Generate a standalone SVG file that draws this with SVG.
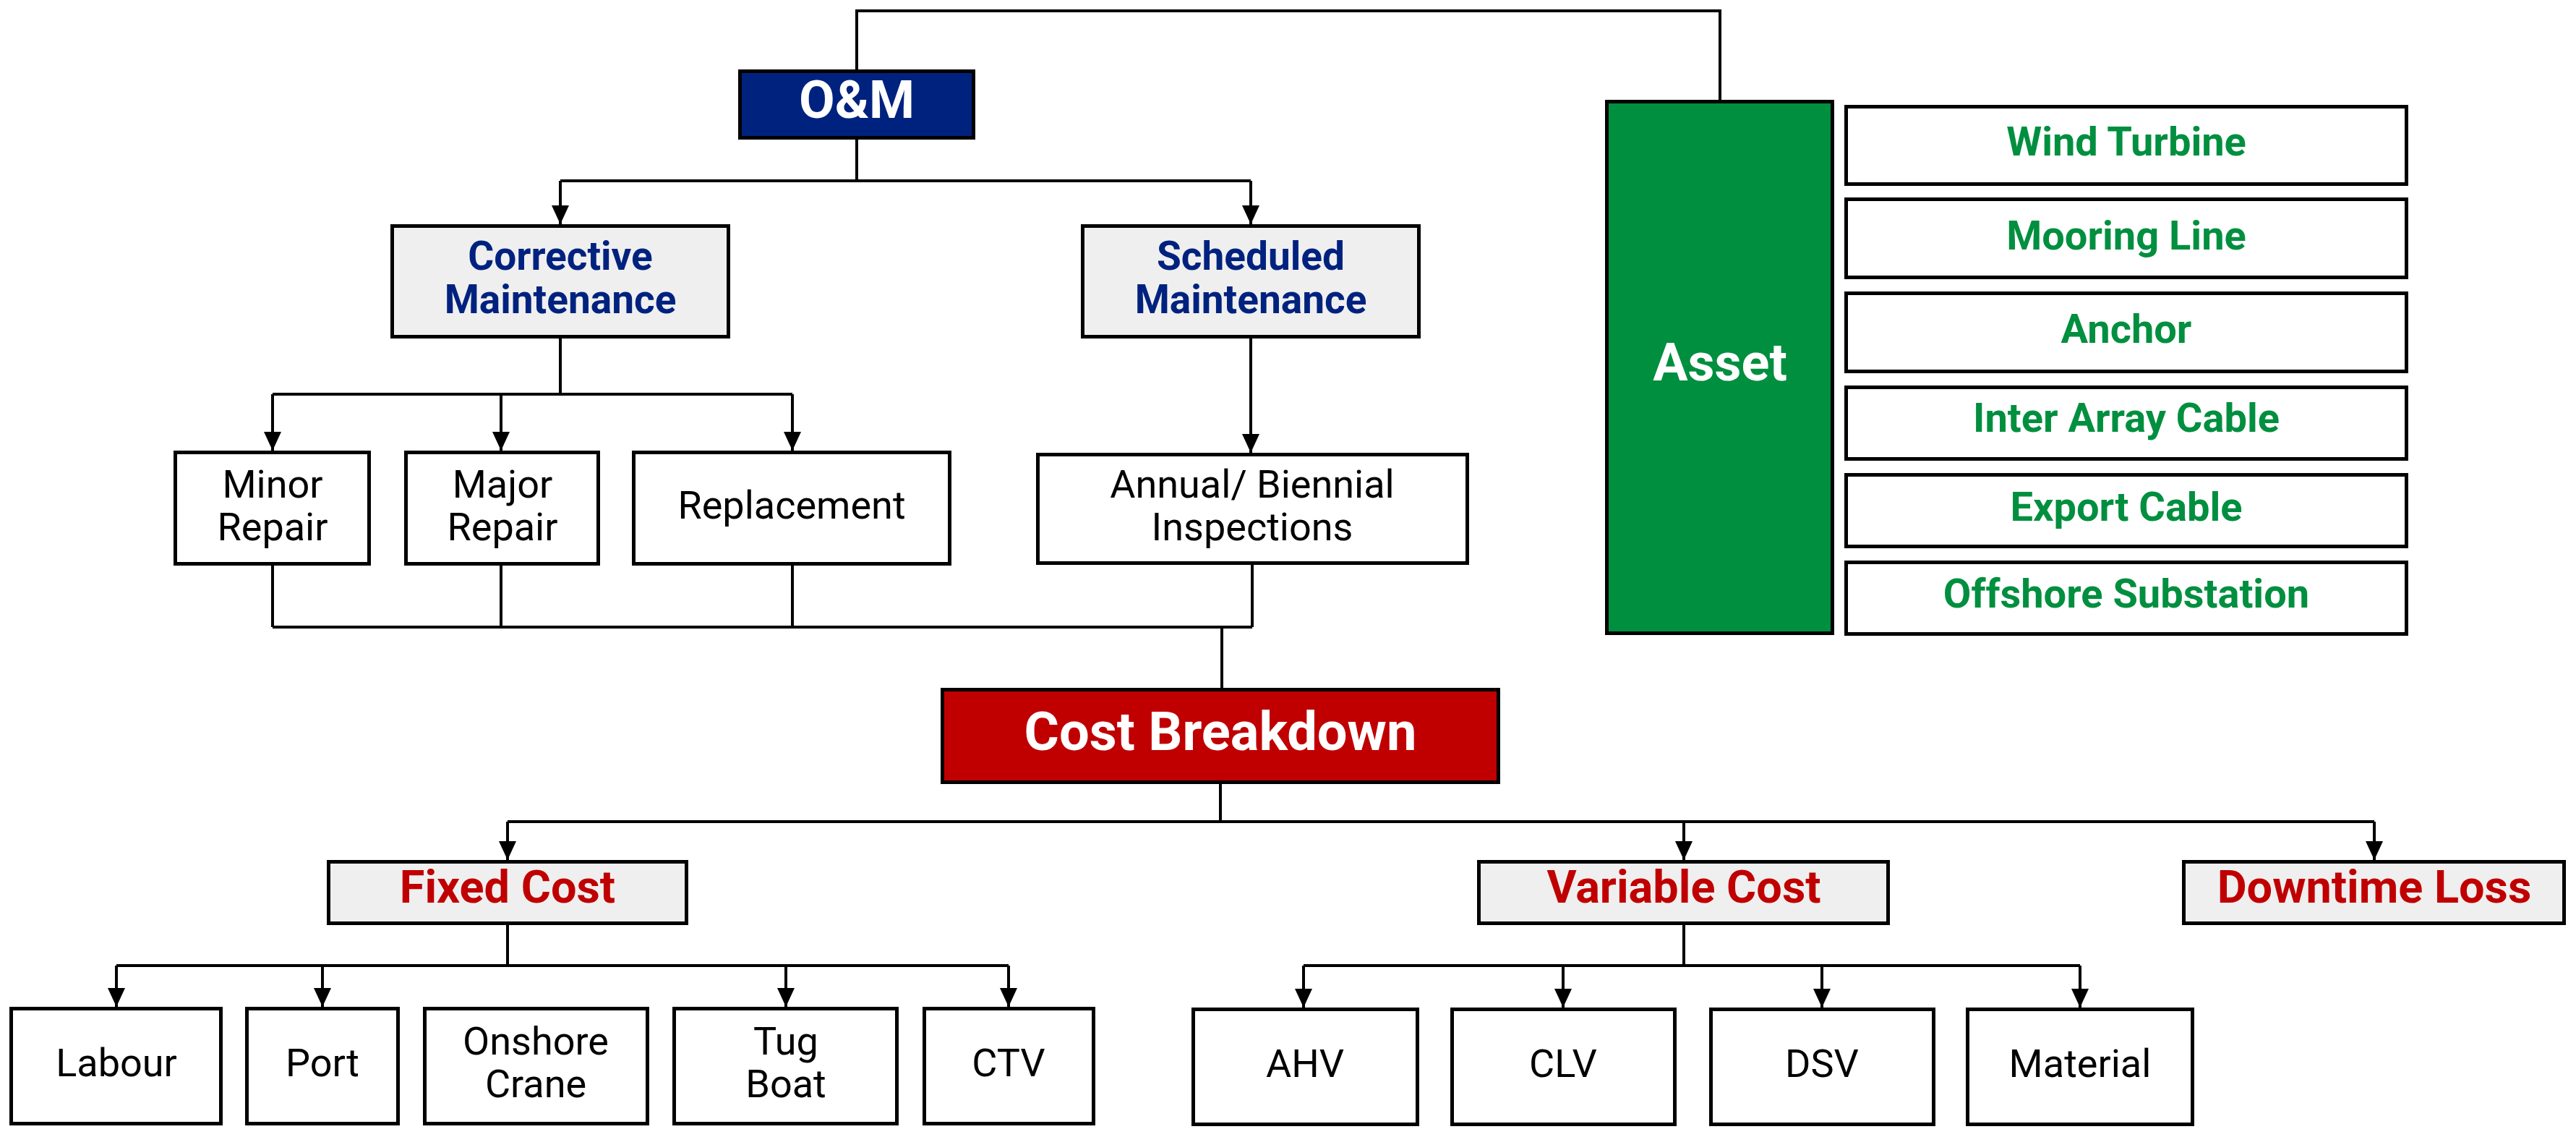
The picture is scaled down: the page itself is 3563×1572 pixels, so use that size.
<svg xmlns="http://www.w3.org/2000/svg" width="3563" height="1572" viewBox="0 0 3563 1572">
<defs>
<marker id="arr" markerUnits="userSpaceOnUse" markerWidth="26" markerHeight="24" refX="26" refY="12" orient="auto">
<path d="M0,0 L26,12 L0,24 z" fill="#000"/>
</marker>
<style>
.bx{stroke:#000;stroke-width:5;}
.w{fill:#fff;}
.g{fill:#efefef;}
.t{font-family:Roboto,"Liberation Sans",sans-serif;text-anchor:middle;}
.reg{font-size:54px;fill:#000;}
.blue{font-size:55px;font-weight:bold;fill:#00227f;}
.red{font-size:63px;font-weight:bold;fill:#c00000;}
.grn{font-size:56px;font-weight:bold;fill:#008f3f;}
.wh{font-weight:bold;fill:#fff;}
.c{fill:none;stroke:#000;stroke-width:4;}
.a{fill:none;stroke:#000;stroke-width:4;marker-end:url(#arr);}
</style>
</defs>
<rect width="3563" height="1572" fill="#fff"/>
<g id="connectors">
<path class="c" d="M1185,96 V15 H2379 V138"/>
<path class="c" d="M1185,193 V250 M775,250 H1730"/>
<path class="a" d="M775,250 V310"/>
<path class="a" d="M1730,250 V310"/>
<path class="c" d="M775,468 V545 M377,545 H1096"/>
<path class="a" d="M377,545 V623"/>
<path class="a" d="M693,545 V623"/>
<path class="a" d="M1096,545 V623"/>
<path class="a" d="M1730,468 V626"/>
<path class="c" d="M377,782 V867 M693,782 V867 M1096,782 V867 M1732,781 V867 M377,867 H1732 M1690,867 V951"/>
<path class="c" d="M1688,1084 V1136 M702,1136 H3284"/>
<path class="a" d="M702,1136 V1189"/>
<path class="a" d="M2329,1136 V1189"/>
<path class="a" d="M3284,1136 V1189"/>
<path class="c" d="M702,1279 V1335 M161,1335 H1395"/>
<path class="a" d="M161,1335 V1392"/>
<path class="a" d="M446,1335 V1392"/>
<path class="a" d="M1087,1335 V1392"/>
<path class="a" d="M1395,1335 V1392"/>
<path class="c" d="M2329,1279 V1335 M1803,1335 H2877"/>
<path class="a" d="M1803,1335 V1393"/>
<path class="a" d="M2162,1335 V1393"/>
<path class="a" d="M2520,1335 V1393"/>
<path class="a" d="M2877,1335 V1393"/>
</g>
<g id="om"><rect class="bx" x="1023.5" y="98.5" width="323" height="92" fill="#00227f"/><text class="t wh" x="1185" y="163" font-size="72">O&amp;M</text></g>
<g id="corrective"><rect class="bx g" x="542.5" y="312.5" width="465" height="153"/><text class="t blue" x="775" y="373">Corrective</text><text class="t blue" x="775" y="433">Maintenance</text></g>
<g id="scheduled"><rect class="bx g" x="1497.5" y="312.5" width="465" height="153"/><text class="t blue" x="1730" y="373">Scheduled</text><text class="t blue" x="1730" y="433">Maintenance</text></g>
<g id="minor"><rect class="bx w" x="242.5" y="625.5" width="268" height="154"/><text class="t reg" x="377" y="688">Minor</text><text class="t reg" x="377" y="747">Repair</text></g>
<g id="major"><rect class="bx w" x="561.5" y="625.5" width="266" height="154"/><text class="t reg" x="695" y="688">Major</text><text class="t reg" x="695" y="747">Repair</text></g>
<g id="replacement"><rect class="bx w" x="876.5" y="625.5" width="437" height="154"/><text class="t reg" x="1095" y="717">Replacement</text></g>
<g id="annual"><rect class="bx w" x="1435.5" y="628.5" width="594" height="150"/><text class="t reg" x="1732" y="688">Annual/ Biennial</text><text class="t reg" x="1732" y="747">Inspections</text></g>
<g id="cost-breakdown"><rect class="bx" x="1303.5" y="953.5" width="769" height="128" fill="#c00000"/><text class="t wh" x="1688" y="1037" font-size="74">Cost Breakdown</text></g>
<g id="asset"><rect class="bx" x="2222.5" y="140.5" width="312" height="735" fill="#008f3f"/><text class="t wh" x="2379" y="526" font-size="72">Asset</text></g>
<g id="wind-turbine"><rect class="bx w" x="2553.5" y="147.5" width="775" height="107"/><text class="t grn" x="2941" y="215">Wind Turbine</text></g>
<g id="mooring-line"><rect class="bx w" x="2553.5" y="275.5" width="775" height="108"/><text class="t grn" x="2941" y="345">Mooring Line</text></g>
<g id="anchor"><rect class="bx w" x="2553.5" y="405.5" width="775" height="108"/><text class="t grn" x="2941" y="474">Anchor</text></g>
<g id="inter-array-cable"><rect class="bx w" x="2553.5" y="535.5" width="775" height="99"/><text class="t grn" x="2941" y="597">Inter Array Cable</text></g>
<g id="export-cable"><rect class="bx w" x="2553.5" y="656.5" width="775" height="99"/><text class="t grn" x="2941" y="720">Export Cable</text></g>
<g id="offshore-substation"><rect class="bx w" x="2553.5" y="777.5" width="775" height="99"/><text class="t grn" x="2941" y="840">Offshore Substation</text></g>
<g id="fixed-cost"><rect class="bx g" x="454.5" y="1191.5" width="495" height="85"/><text class="t red" x="702" y="1248">Fixed Cost</text></g>
<g id="variable-cost"><rect class="bx g" x="2045.5" y="1191.5" width="566" height="85"/><text class="t red" x="2329" y="1248">Variable Cost</text></g>
<g id="downtime-loss"><rect class="bx g" x="3020.5" y="1191.5" width="526" height="85"/><text class="t red" x="3284" y="1248">Downtime Loss</text></g>
<g id="labour"><rect class="bx w" x="15.5" y="1394.5" width="290" height="159"/><text class="t reg" x="161" y="1488">Labour</text></g>
<g id="port"><rect class="bx w" x="341.5" y="1394.5" width="209" height="159"/><text class="t reg" x="446" y="1488">Port</text></g>
<g id="onshore-crane"><rect class="bx w" x="587.5" y="1394.5" width="308" height="159"/><text class="t reg" x="741" y="1458">Onshore</text><text class="t reg" x="741" y="1517">Crane</text></g>
<g id="tug-boat"><rect class="bx w" x="932.5" y="1394.5" width="308" height="159"/><text class="t reg" x="1087" y="1458">Tug</text><text class="t reg" x="1087" y="1517">Boat</text></g>
<g id="ctv"><rect class="bx w" x="1278.5" y="1394.5" width="234" height="159"/><text class="t reg" x="1395" y="1488">CTV</text></g>
<g id="ahv"><rect class="bx w" x="1650.5" y="1395.5" width="310" height="159"/><text class="t reg" x="1805" y="1489">AHV</text></g>
<g id="clv"><rect class="bx w" x="2008.5" y="1395.5" width="308" height="159"/><text class="t reg" x="2162" y="1489">CLV</text></g>
<g id="dsv"><rect class="bx w" x="2366.5" y="1395.5" width="308" height="159"/><text class="t reg" x="2520" y="1489">DSV</text></g>
<g id="material"><rect class="bx w" x="2721.5" y="1395.5" width="311" height="159"/><text class="t reg" x="2877" y="1489">Material</text></g>
</svg>
